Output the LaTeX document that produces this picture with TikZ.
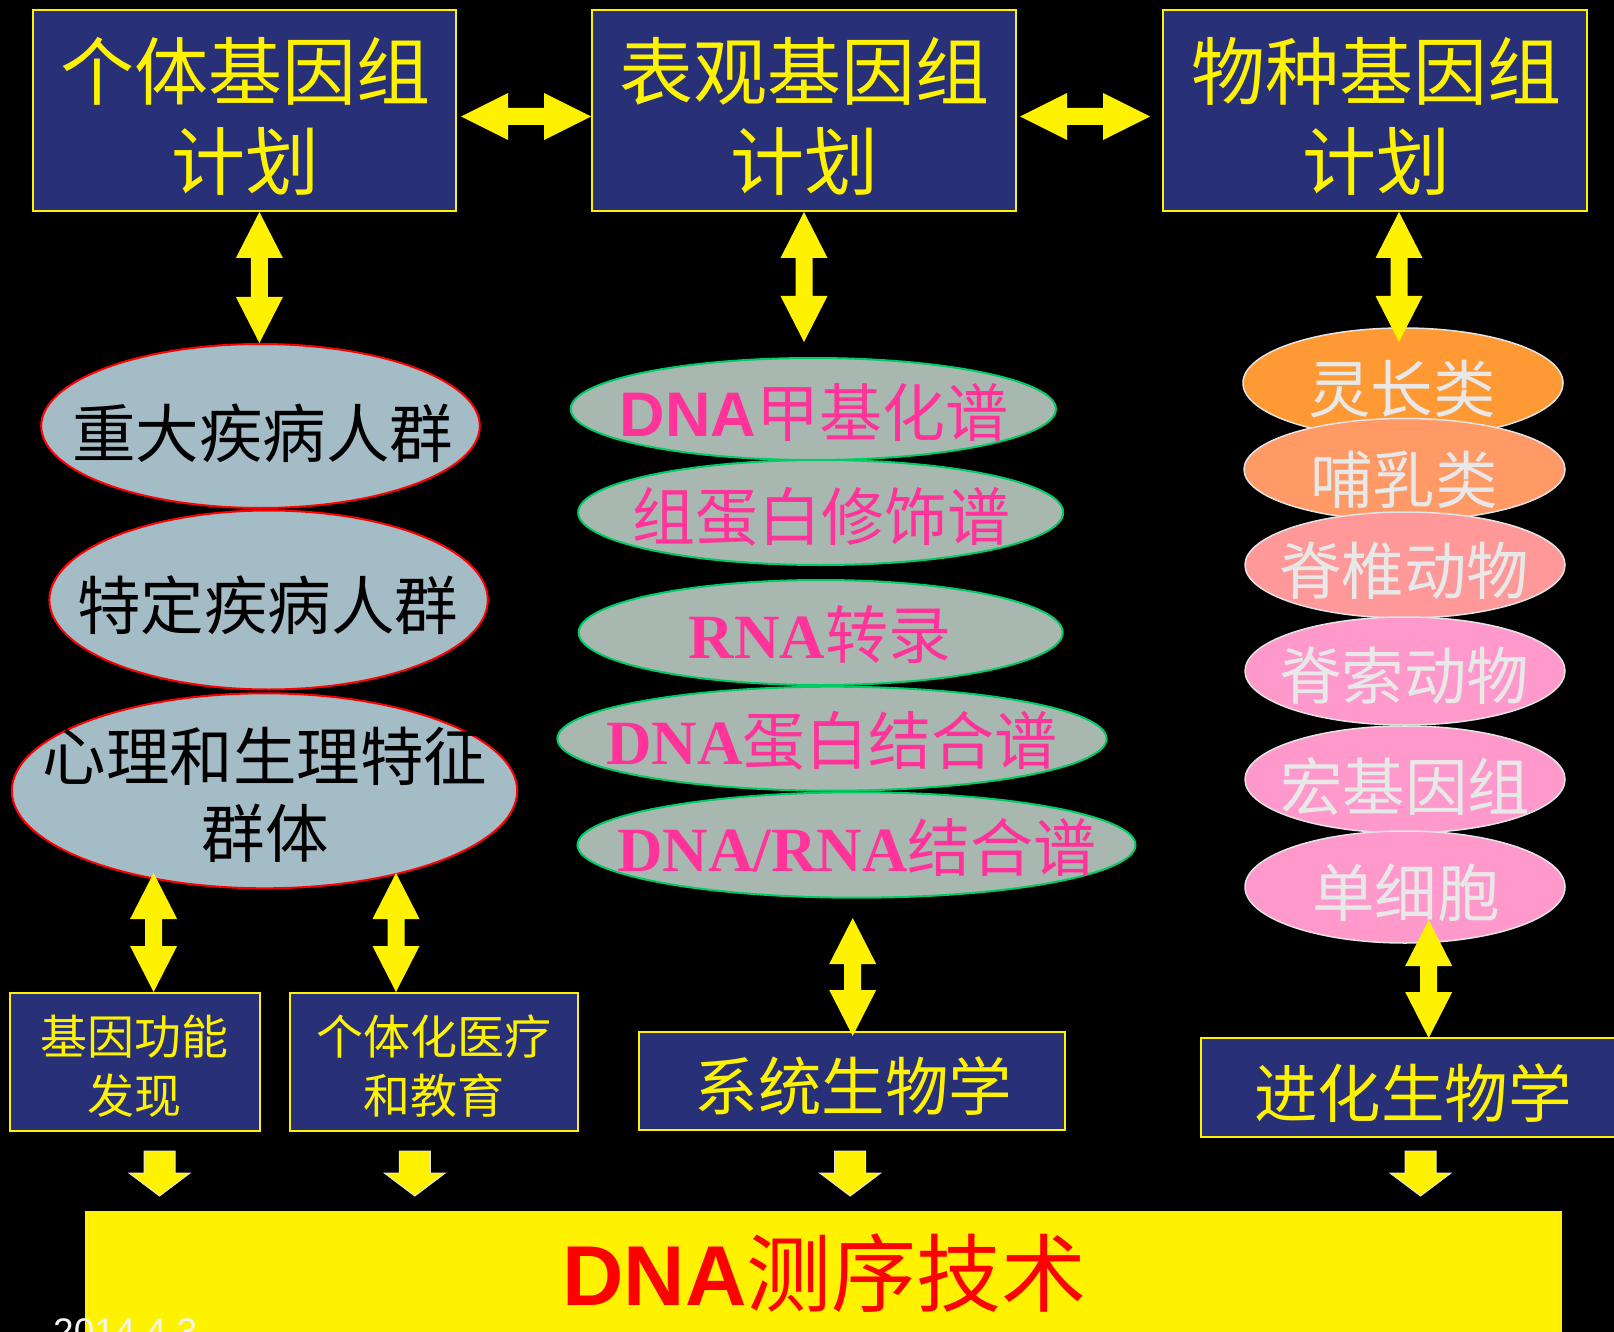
\documentclass[tikz,border=0pt]{standalone}
\usepackage{fontspec}
\usetikzlibrary{calc,shapes.geometric}
\newfontfamily\cjk{Noto Sans CJK SC}
\newfontfamily\lsans{Liberation Sans}
\newfontfamily\lserif{Liberation Serif}
\definecolor{navy}{HTML}{283178}
\definecolor{lellip}{HTML}{A4BCC5}
\definecolor{mellip}{HTML}{A8B8B0}
\definecolor{mborder}{HTML}{00CC66}
\definecolor{pinktext}{HTML}{FF3399}
\definecolor{rA}{HTML}{FF9933}
\definecolor{rB}{HTML}{FF9966}
\definecolor{rC}{HTML}{FF9999}
\definecolor{rD}{HTML}{FF99CC}
\definecolor{rtext}{HTML}{E8E8E8}
\definecolor{rborder}{HTML}{E4E4E4}
\newcommand\vdblarrow[2]{%
  \fill[yellow] (#1) -- ++(23.5,46) -- ++(-15,0) -- ($(#2)+(8.5,-46)$) -- ++(15,0) -- (#2)
    -- ++(-23.5,-46) -- ++(15,0) -- ($(#1)+(-8.5,46)$) -- ++(-15,0) -- cycle;}
\newcommand\hdblarrow[2]{%
  \fill[yellow] (#1) -- ++(47,-23.5) -- ++(0,15) -- ($(#2)+(-47,-8.5)$) -- ++(0,-15) -- (#2)
    -- ++(-47,23.5) -- ++(0,-15) -- ($(#1)+(47,8.5)$) -- ++(0,15) -- cycle;}
\newcommand\downblk[2]{%
  \filldraw[fill=yellow,draw=rborder,line width=1pt,line join=miter]
    ($(#1)+(-15.5,0)$) -- ($(#1)+(15.5,0)$) -- ($(#2)+(15.5,-23)$) -- ($(#2)+(30.5,-23)$)
    -- (#2) -- ($(#2)+(-30.5,-23)$) -- ($(#2)+(-15.5,-23)$) -- cycle;}
\tikzset{
  navybox/.style={draw=yellow,line width=2pt,fill=navy,inner sep=0pt},
  lel/.style={ellipse,draw=red,line width=2pt,fill=lellip,inner sep=0pt},
  mel/.style={ellipse,draw=mborder,line width=2pt,fill=mellip,inner sep=0pt},
  rel/.style={ellipse,draw=rborder,line width=1.5pt,inner sep=0pt},
  toptext/.style={text=yellow,align=center,inner sep=0pt,font=\cjk\fontsize{74}{90}\selectfont},
  smalltext/.style={text=yellow,align=center,inner sep=0pt,font=\cjk\fontsize{47}{59}\selectfont},
  midtext/.style={text=yellow,inner sep=0pt,font=\cjk\fontsize{63.5}{70}\selectfont},
  ltext/.style={text=black,align=center,inner sep=0pt,font=\cjk\fontsize{63.5}{77}\selectfont},
  mtext/.style={text=pinktext,inner sep=0pt,font=\cjk\fontsize{63}{70}\selectfont},
  rtxt/.style={text=rtext,inner sep=0pt,font=\cjk\fontsize{62.5}{70}\selectfont},
}
\begin{document}
\begin{tikzpicture}[x=1pt,y=-1pt]
\useasboundingbox (0,0) rectangle (1614,1332);
\clip (0,0) rectangle (1614,1332);
\fill[black] (0,0) rectangle (1614,1332);

% top boxes
\node[navybox,minimum width=423pt,minimum height=201pt] (b1) at (244.5,110.5) {};
\node[navybox,minimum width=424pt,minimum height=201pt] (b2) at (804,110.5) {};
\node[navybox,minimum width=424pt,minimum height=201pt] (b3) at (1375,110.5) {};
\node[toptext] (t1) at (245,116.7) {个体基因组\\计划};
\node[toptext] (t2) at (804,116.7) {表观基因组\\计划};
\node[toptext] (t3) at (1376,116.7) {物种基因组\\计划};

% left ellipses
\node[lel,minimum width=438.6pt,minimum height=164pt] (e1) at (260.5,426) {};
\node[lel,minimum width=438.4pt,minimum height=179pt] (e2) at (268.6,600) {};
\node[lel,minimum width=505.4pt,minimum height=195pt] (e3) at (264.5,790.8) {};
\node[ltext] (le1) at (262.5,433) {重大疾病人群};
\node[ltext] (le2) at (267.5,605) {特定疾病人群};
\node[ltext] (le3) at (265,794.5) {心理和生理特征\\群体};

% middle ellipses
\node[mel,minimum width=485.2pt,minimum height=102pt] (m1) at (813.3,409) {};
\node[mel,minimum width=485pt,minimum height=105pt] (m2) at (820.7,512.5) {};
\node[mel,minimum width=484pt,minimum height=105pt] (m3) at (820.7,632.5) {};
\node[mel,minimum width=549.2pt,minimum height=104pt] (m4) at (832,738.7) {};
\node[mel,minimum width=558pt,minimum height=105.4pt] (m5) at (856.5,845) {};
\node[mtext] (mt1) at (814,412) {{\lsans\bfseries DNA}甲基化谱};
\node[mtext] (mt2) at (821.5,517) {组蛋白修饰谱};
\node[mtext] (mt3) at (820,635) {{\lserif\bfseries RNA}转录};
\node[mtext] (mt4) at (832,741) {{\lserif\bfseries DNA}蛋白结合谱};
\node[mtext] (mt5) at (857,847) {{\lserif\bfseries DNA/RNA}结合谱};

% right ellipses
\node[rel,fill=rA,minimum width=320pt,minimum height=110pt] (r1) at (1403,383) {};
\node[rel,fill=rB,minimum width=321pt,minimum height=102pt] (r2) at (1404.5,469.5) {};
\node[rel,fill=rC,minimum width=320pt,minimum height=106pt] (r3) at (1405,565) {};
\node[rel,fill=rD,minimum width=320pt,minimum height=108pt] (r4) at (1405,671) {};
\node[rel,fill=rD,minimum width=320pt,minimum height=107pt] (r5) at (1405,779.5) {};
\node[rel,fill=rD,minimum width=320pt,minimum height=112pt] (r6) at (1405,887) {};
\node[rtxt] (rt1) at (1402,389) {灵长类};
\node[rtxt] (rt2) at (1404,480) {哺乳类};
\node[rtxt] (rt3) at (1404,571) {脊椎动物};
\node[rtxt] (rt4) at (1404,676) {脊索动物};
\node[rtxt] (rt5) at (1405,786) {宏基因组};
\node[rtxt] (rt6) at (1406,893) {单细胞};

% bottom boxes
\node[navybox,minimum width=250pt,minimum height=138pt] (b4) at (135,1062) {};
\node[navybox,minimum width=288pt,minimum height=138pt] (b5) at (434,1062) {};
\node[navybox,minimum width=426pt,minimum height=98pt] (b6) at (852,1081) {};
\node[navybox,minimum width=430pt,minimum height=99pt,anchor=west] (b7) at (1200,1087.5) {};
\node[smalltext] (bt4) at (134.5,1066.5) {基因功能\\发现};
\node[smalltext] (bt5) at (434,1066.5) {个体化医疗\\和教育};
\node[midtext] (bt6) at (853.5,1086) {系统生物学};
\node[midtext] (bt7) at (1413,1093) {进化生物学};

% big bottom bar
\fill[yellow] (85,1211) rectangle (1561.5,1340);
\node[inner sep=0pt,text=red,font=\cjk\fontsize{85}{90}\selectfont] (bartext) at (824.5,1273) {{\lsans\bfseries DNA}测序技术};
\node[inner sep=0pt,anchor=base west,text=white!95!black,font=\lsans\fontsize{37}{40}\selectfont] (date) at (53,1344.5) {2014.4.3};

% connector coordinates
\coordinate (h1a) at ($(b1.east)+(4,6)$);
\coordinate (h1b) at ($(b2.west)+(0,6)$);
\coordinate (h2a) at ($(b2.east)+(3,6)$);
\coordinate (h2b) at ($(b3.west)+(-12,6)$);
\coordinate (v1a) at (259.4,212);
\coordinate (v1b) at (259.4,343);
\coordinate (v2a) at (804,212);
\coordinate (v2b) at (804,342);
\coordinate (v3a) at (1399,212);
\coordinate (v3b) at (1399,342);
\coordinate (v4a) at (153.6,873);
\coordinate (v4b) at (153.6,992);
\coordinate (v5a) at (396,873);
\coordinate (v5b) at (396,992);
\coordinate (v6a) at (852.7,918);
\coordinate (v6b) at (852.7,1036);
\coordinate (v7a) at (1428.7,920);
\coordinate (v7b) at (1428.7,1038);
\coordinate (d1a) at (159.5,1151);
\coordinate (d1b) at (159.5,1196);
\coordinate (d2a) at (414.8,1151);
\coordinate (d2b) at (414.8,1196);
\coordinate (d3a) at (850.2,1151);
\coordinate (d3b) at (850.2,1196);
\coordinate (d4a) at (1420.5,1151);
\coordinate (d4b) at (1420.5,1196);

\hdblarrow{h1a}{h1b}
\hdblarrow{h2a}{h2b}
\vdblarrow{v1a}{v1b}
\vdblarrow{v2a}{v2b}
\vdblarrow{v3a}{v3b}
\vdblarrow{v4a}{v4b}
\vdblarrow{v5a}{v5b}
\vdblarrow{v6a}{v6b}
\vdblarrow{v7a}{v7b}
\downblk{d1a}{d1b}
\downblk{d2a}{d2b}
\downblk{d3a}{d3b}
\downblk{d4a}{d4b}
\end{tikzpicture}
\end{document}
